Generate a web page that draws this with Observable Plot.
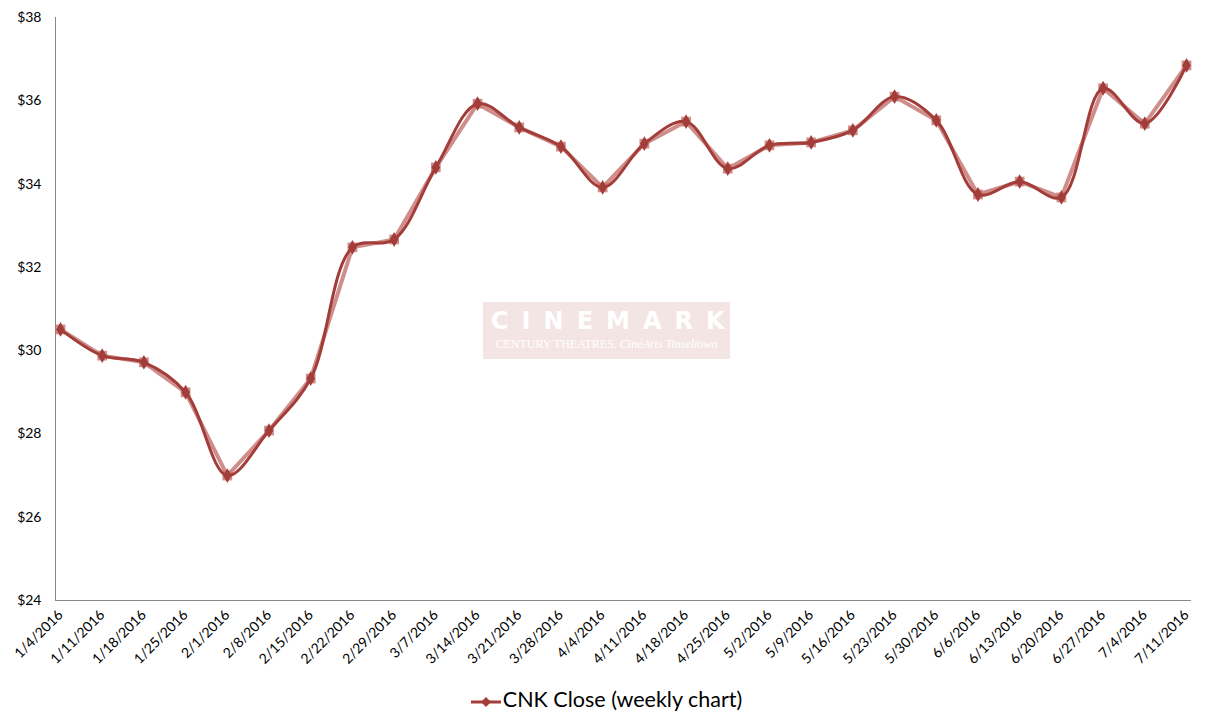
<!DOCTYPE html>
<html>
<head>
<meta charset="utf-8">
<script src="https://cdn.jsdelivr.net/npm/d3@7"></script>
<script src="https://cdn.jsdelivr.net/npm/@observablehq/plot@0.6"></script>
<style>
  body { margin: 0; background: #fff; font-family: Lato, "Open Sans", sans-serif; }
  #wrap { position: relative; width: 1213px; height: 728px; }
  #logo { position: absolute; left: 483px; top: 302px; width: 247px; height: 57px; background: #f4e5e5; color: #fff; text-align: center; }
  #logo .big { font-family: "DejaVu Sans", sans-serif; font-size: 24px; letter-spacing: 13px; font-weight: bold; line-height: 32px; padding-top: 3px; padding-left: 8px; }
  #logo .small { font-family: "Liberation Serif", serif; font-size: 12px; line-height: 14px; }
  #legend { position: absolute; left: 0; top: 686px; width: 1213px; text-align: center; font-size: 21.5px; color: #000; }
  #legend svg { vertical-align: middle; margin-right: 2px; }
</style>
</head>
<body>
<div id="wrap">
  <div id="chart"></div>
  <div id="logo"><div class="big">CINEMARK</div><div class="small">CENTURY THEATRES. <i>CinéArts</i> <i>Tinseltown</i></div></div>
  <div id="legend"><svg width="30" height="14"><line x1="0" y1="7" x2="30" y2="7" stroke="#a33d39" stroke-width="3"/><path d="M15,2 L20,7 L15,12 L10,7 Z" fill="#a33d39"/></svg>CNK Close (weekly chart)</div>
</div>
<script>
const dates = ["1/4/2016","1/11/2016","1/18/2016","1/25/2016","2/1/2016","2/8/2016","2/15/2016","2/22/2016","2/29/2016","3/7/2016","3/14/2016","3/21/2016","3/28/2016","4/4/2016","4/11/2016","4/18/2016","4/25/2016","5/2/2016","5/9/2016","5/16/2016","5/23/2016","5/30/2016","6/6/2016","6/13/2016","6/20/2016","6/27/2016","7/4/2016","7/11/2016"];
const closes = [30.51,29.88,29.72,29.0,27.0,28.08,29.33,32.48,32.67,34.4,35.93,35.36,34.9,33.92,34.97,35.5,34.37,34.93,35.0,35.29,36.1,35.53,33.75,34.06,33.68,36.3,35.45,36.85];
const yTicks = [24,26,28,30,32,34,36,38];

const data = dates.map((d, i) => ({i, date: d, close: closes[i]}));
const idx = dates.map((d, i) => i);

const chart = Plot.plot({
  width: 1213,
  height: 675,
  marginLeft: 55,
  marginRight: 22,
  marginTop: 17,
  marginBottom: 75,
  style: {fontFamily: "Lato, 'Open Sans', sans-serif", fontSize: "14px", color: "#000", background: "#fff"},
  x: {type: "linear", domain: [0, dates.length - 1], range: [60, 1186], ticks: idx, tickFormat: i => dates[i], label: null, tickSize: 0, tickPadding: 12, tickRotate: -45},
  y: {domain: [24, 38], ticks: yTicks, tickFormat: d => "$" + d, label: null, tickSize: 0, tickPadding: 14},
  marks: [
    Plot.ruleX([0], {dx: -5, stroke: "#888", strokeWidth: 1}),
    Plot.ruleY([24], {stroke: "#888", strokeWidth: 1}),
    Plot.line(data, {x: "i", y: "close", stroke: "#c77a77", strokeOpacity: 0.85, strokeWidth: 4}),
    Plot.dot(data, {x: "i", y: "close", symbol: "square", r: 5.5, fill: "#c77a77", fillOpacity: 0.85}),
    Plot.line(data, {x: "i", y: "close", stroke: "#a33d39", strokeWidth: 3, curve: "catmull-rom"}),
    Plot.dot(data, {x: "i", y: "close", symbol: "diamond", r: 4.5, fill: "#a33d39"})
  ]
});
document.getElementById("chart").appendChild(chart);
</script>
</body>
</html>
